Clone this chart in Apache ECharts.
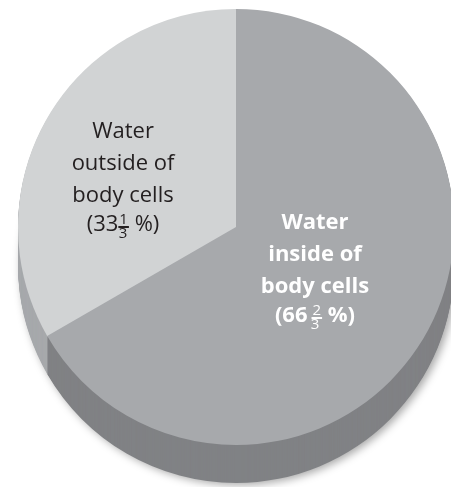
<!DOCTYPE html>
<html>
<head>
<meta charset="utf-8">
<script src="https://cdn.jsdelivr.net/npm/echarts@6/dist/echarts.min.js"></script>
<style>
html,body{margin:0;padding:0;background:#ffffff;}
#chart{width:451px;height:487px;}
</style>
</head>
<body>
<div id="chart"></div>
<script>
// ---- data ----
const categories = ['Water inside of body cells', 'Water outside of body cells'];
const shares = [66.67, 33.33];
const labelLines = [['Water', 'inside of', 'body cells'], ['Water', 'outside of', 'body cells']];
const wholeParts = ['66', '33'];
const numerators = ['2', '1'];
const denominators = ['3', '3'];

// ---- style ----
const topColors = ['#a7a9ac', '#d1d3d4'];
const sideColors = ['#808285', '#a7a9ac'];
const textColors = ['#ffffff', '#231f20'];
const textWeights = [700, 500];
const gapBeforeFraction = [4, 0];
const labelShift = [[-18, -9], [-16, 12]];
const cx = 236, cy = 227, R = 218, depth = 38;

const chart = echarts.init(document.getElementById('chart'), null, {renderer: 'canvas'});

function bar(color) {
  return new echarts.graphic.LinearGradient(0, 0, 0, 1, [
    {offset: 0, color: 'rgba(0,0,0,0)'},
    {offset: 0.9, color: 'rgba(0,0,0,0)'},
    {offset: 0.9, color: color},
    {offset: 1, color: color}
  ]);
}

function makeRich(i) {
  const c = textColors[i];
  const w = textWeights[i];
  return {
    t: {fontFamily: 'Open Sans', fontSize: 22, fontWeight: w, color: c, lineHeight: 32},
    a: {fontFamily: 'Open Sans', fontSize: 22, fontWeight: w, color: c, lineHeight: 26,
        padding: [0, gapBeforeFraction[i], 0, 0]},
    p: {fontFamily: 'Open Sans', fontSize: 22, fontWeight: w, color: c, lineHeight: 26},
    n: {fontFamily: 'Open Sans', fontSize: 15, fontWeight: 400, color: c, lineHeight: 16,
        verticalAlign: 'top', padding: [0, 1, 1, 1], backgroundColor: bar(c)},
    d: {fontFamily: 'Open Sans', fontSize: 15, fontWeight: 400, color: c, lineHeight: 12,
        padding: [0, 0, 20, 0]}
  };
}

const series = [];
for (let k = depth; k >= 1; k--) {
  series.push({
    type: 'pie',
    center: [cx, cy + k],
    radius: R,
    startAngle: 90,
    clockwise: true,
    silent: true,
    animation: false,
    label: {show: false},
    labelLine: {show: false},
    emphasis: {disabled: true},
    data: categories.map((name, i) => ({
      name: name,
      value: shares[i],
      itemStyle: Object.assign({color: sideColors[i], borderWidth: 0},
        k === depth ? {shadowBlur: 8, shadowColor: 'rgba(0,0,0,0.35)', shadowOffsetX: 3, shadowOffsetY: 2} : {})
    }))
  });
}

series.push({
  type: 'pie',
  center: [cx, cy],
  radius: R,
  startAngle: 90,
  clockwise: true,
  silent: true,
  animation: false,
  avoidLabelOverlap: false,
  emphasis: {disabled: true},
  labelLine: {show: false},
  labelLayout: function (params) {
    const s = labelShift[params.dataIndex];
    return {dx: s[0], dy: s[1]};
  },
  data: categories.map((name, i) => ({
    name: name,
    value: shares[i],
    itemStyle: {color: topColors[i], borderWidth: 0},
    label: {
      show: true,
      position: 'inside',
      align: 'center',
      formatter: labelLines[i].map(s => '{t|' + s + '}').join('\n') +
        '\n{a|(' + wholeParts[i] + '}{n|' + numerators[i] + '}{p| %)}\n{d|' + denominators[i] + '}',
      rich: makeRich(i)
    }
  }))
});

chart.setOption({
  backgroundColor: '#ffffff',
  animation: false,
  series: series
});
</script>
</body>
</html>
